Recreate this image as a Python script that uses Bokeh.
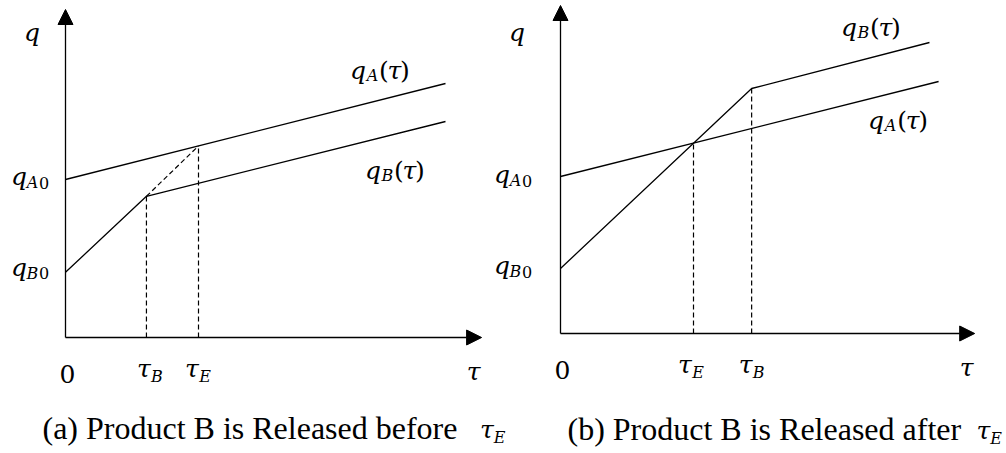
from bokeh.plotting import figure
from bokeh.models import Range1d, Label, Arrow, NormalHead
from bokeh.embed import file_html
from bokeh.resources import INLINE

# ---------------- panel (a): product B released before tau_E ----------------
a_qA_tau = [0.0, 10.0]
a_qA = [3.95, 6.35]
a_qB_tau = [0.0, 2.13, 10.0]
a_qB = [1.63, 3.53, 5.40]
a_tau_B = 2.13
a_tau_E = 3.50
a_qA_at_tau_E = 4.79          # q_A(tau_E): where B's early trend would meet A

# ---------------- panel (b): product B released after tau_E -----------------
b_qA_tau = [0.0, 9.95]
b_qA = [3.925, 6.30]
b_qB_tau = [0.0, 5.03, 9.71]
b_qB = [1.625, 6.125, 7.275]
b_tau_E = 3.50
b_qA_at_tau_E = 4.76
b_tau_B = 5.03

axis_tau_max = {"a": 10.95, "b": 10.90}
axis_q_max = 8.2
captions = {"a": "(a) Product B is Released before", "b": "(b) Product B is Released after"}

# ---------------- layout / style ----------------
W, H = 1006, 453
PXT, PXQ = 38.0, 40.0                 # pixels per tau unit, pixels per q unit
ORIGIN = {"a": (65, 337), "b": (560, 333)}
RNG = {"a": "default", "b": "b"}
MATH_FONT = "DejaVu Serif"
TEXT_FONT = "Liberation Serif"
MAIN, SUB = 25, 16                    # math glyph sizes, px
LW = 1.3
TEXT_LIFT = 8                         # baseline correction for labels, px


def xr(panel):
    ox, _ = ORIGIN[panel]
    return Range1d(-ox / PXT, (W - ox) / PXT)


def yr(panel):
    _, oy = ORIGIN[panel]
    return Range1d((oy - H) / PXQ, oy / PXQ)


p = figure(width=W, height=H, x_range=xr("a"), y_range=yr("a"),
           output_backend="svg", toolbar_location=None, min_border=0,
           x_axis_location=None, y_axis_location=None)
p.extra_x_ranges = {"b": xr("b")}
p.extra_y_ranges = {"b": yr("b")}
p.grid.visible = False
p.outline_line_color = None
p.background_fill_color = "white"
p.border_fill_color = "white"


def put(panel, x, y, dx, dy, txt, size, italic=True, font=MATH_FONT, align="center"):
    dy = dy - TEXT_LIFT
    p.add_layout(Label(x=x + dx / PXT, y=y - dy / PXQ, text=txt,
                       text_font=font, text_font_size=f"{size}px",
                       text_font_style="italic" if italic else "normal",
                       text_align=align, text_baseline="alphabetic",
                       text_color="black",
                       x_range_name=RNG[panel], y_range_name=RNG[panel]))


def q_sub_arg(panel, x, y, dx, dy, sub):
    """q_X(tau) label; dx/dy locate the left edge / baseline of q."""
    put(panel, x, y, dx + 6.5, dy, "q", MAIN)
    put(panel, x, y, dx + 21, dy + 5, sub, SUB)
    put(panel, x, y, dx + 32.5, dy, "(", MAIN, italic=False)
    put(panel, x, y, dx + 43, dy, "τ", MAIN)
    put(panel, x, y, dx + 53.5, dy, ")", MAIN, italic=False)


def q_zero(panel, x, y, dx, dy, sub):
    """q_X0 intercept label."""
    put(panel, x, y, dx + 7.5, dy, "q", MAIN)
    put(panel, x, y, dx + 21, dy + 6, sub, SUB)
    put(panel, x, y, dx + 32.5, dy + 6, "0", SUB, italic=False)


def tau_sub(panel, x, y, dx, dy, sub):
    """tau_X label; dx/dy locate the centre / baseline of tau."""
    put(panel, x, y, dx, dy, "τ", MAIN)
    put(panel, x, y, dx + 13, dy + 8, sub, SUB)


def axes(panel):
    kw = dict(x_range_name=RNG[panel], y_range_name=RNG[panel])
    for xe, ye in ((0, axis_q_max), (axis_tau_max[panel], 0)):
        p.add_layout(Arrow(end=NormalHead(size=15, fill_color="black", line_color="black",
                                          line_width=1),
                           x_start=0, y_start=0, x_end=xe, y_end=ye,
                           line_color="black", line_width=LW, **kw))
    put(panel, 0, 0, 2, 44, "0", MAIN, italic=False)
    put(panel, axis_tau_max[panel], 0, -8, 42, "τ", MAIN)


def curves(panel, qA_tau, qA, qB_tau, qB):
    kw = dict(x_range_name=RNG[panel], y_range_name=RNG[panel])
    p.line(qA_tau, qA, line_color="black", line_width=LW, **kw)
    p.line(qB_tau, qB, line_color="black", line_width=LW, **kw)


def dashed(panel, xs, ys):
    p.line(xs, ys, line_color="black", line_width=1.2, line_dash="5 3",
           x_range_name=RNG[panel], y_range_name=RNG[panel])


# ---- panel (a) ----
axes("a")
curves("a", a_qA_tau, a_qA, a_qB_tau, a_qB)
dashed("a", [a_tau_B, a_tau_B], [0, a_qB[1]])
dashed("a", [a_tau_E, a_tau_E], [0, a_qA_at_tau_E])
dashed("a", [a_tau_B, a_tau_E], [a_qB[1], a_qA_at_tau_E])
put("a", 0, axis_q_max, -33.5, 31, "q", MAIN)
q_zero("a", 0, a_qA[0], -54, 5, "A")
q_zero("a", 0, a_qB[0], -54, 3, "B")
q_sub_arg("a", a_qA_tau[-1], a_qA[-1], -94, -5, "A")
q_sub_arg("a", a_qB_tau[-1], a_qB[-1], -79, 57, "B")
tau_sub("a", a_tau_B, 0, -2.5, 39, "B")
tau_sub("a", a_tau_E, 0, -6.5, 39, "E")
put("a", 0, 0, -23, 98, captions["a"], 32, italic=False, font=TEXT_FONT, align="left")
put("a", 0, 0, 421.5, 100, "τ", MAIN)
put("a", 0, 0, 434, 108, "E", SUB)

# ---- panel (b) ----
axes("b")
curves("b", b_qA_tau, b_qA, b_qB_tau, b_qB)
dashed("b", [b_tau_E, b_tau_E], [0, b_qA_at_tau_E])
dashed("b", [b_tau_B, b_tau_B], [0, b_qB[1]])
put("b", 0, axis_q_max, -43.5, 35, "q", MAIN)
q_zero("b", 0, b_qA[0], -66, 6, "A")
q_zero("b", 0, b_qB[0], -66, 5, "B")
q_sub_arg("b", b_qB_tau[-1], b_qB[-1], -87, -7, "B")
q_sub_arg("b", b_qA_tau[-1], b_qA[-1], -69, 47, "A")
tau_sub("b", b_tau_E, 0, -8.5, 39, "E")
tau_sub("b", b_tau_B, 0, -6, 39, "B")
put("b", 0, 0, 7, 103, captions["b"], 32, italic=False, font=TEXT_FONT, align="left")
put("b", 0, 0, 423, 105, "τ", MAIN)
put("b", 0, 0, 435.5, 113, "E", SUB)

open("out.html", "w").write(file_html(p, INLINE))
